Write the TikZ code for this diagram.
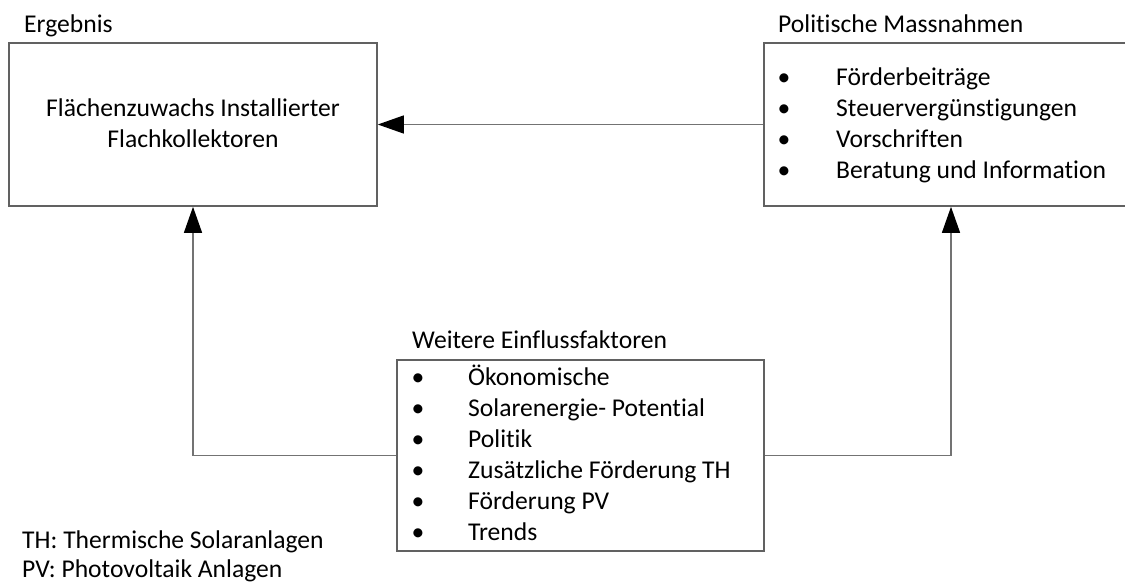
\documentclass[tikz,border=0pt]{standalone}
\usepackage{fontspec}
\setmainfont{Carlito}[Ligatures={NoCommon}]
\usetikzlibrary{arrows.meta}
\tikzset{
  boxframe/.style={draw=black!62, line width=1.6pt, inner sep=0pt},
  txt/.style={anchor=base west, inner sep=0pt, font=\fontsize{25.6}{31}\selectfont},
  ctxt/.style={anchor=base, inner sep=0pt, font=\fontsize{25.6}{31}\selectfont},
  conn/.style={draw=black!55, line width=1.3pt, -{Triangle[length=26pt,width=18pt,color=black]}},
}
\begin{document}
\begin{tikzpicture}[x=1pt,y=-1pt]
\useasboundingbox (0,0) rectangle (1125,584);
\clip (0,0) rectangle (1125,584);
% boxes
\node[boxframe, minimum width=368pt, minimum height=163pt] (res) at (193,124.5) {};
\node[boxframe, minimum width=363pt, minimum height=163pt] (pol) at (945.5,124.5) {};
\node[boxframe, minimum width=367pt, minimum height=191pt] (inf) at (580.5,455.5) {};
% titles
\node[txt] (t1) at (24,32) {Ergebnis};
\node[txt] (t2) at (778,32) {Politische Massnahmen};
\node[txt] (t3) at (412,348) {Weitere Einflussfaktoren};
% result text
\node[ctxt] (r1) at (193,116) {Flächenzuwachs Installierter};
\node[ctxt] (r2) at (193,147) {Flachkollektoren};
% policy list
\foreach \i/\t in {0/Förderbeiträge,1/Steuervergünstigungen,2/Vorschriften,3/Beratung und Information}{
  \node[ctxt] (pb\i) at (784,85+31*\i) {\textbullet};
  \node[txt] (pt\i) at (836,85+31*\i) {\t};
}
% factors list
\foreach \i/\t in {0/Ökonomische,1/Solarenergie- Potential,2/Politik,3/Zusätzliche Förderung TH,4/Förderung PV,5/Trends}{
  \node[ctxt] (fb\i) at (418,385+31*\i) {\textbullet};
  \node[txt] (ft\i) at (468,385+31*\i) {\t};
}
% legend
\node[txt] (l1) at (22,548) {TH: Thermische Solaranlagen};
\node[txt] (l2) at (22,577) {PV: Photovoltaik Anlagen};
% connectors
\coordinate (pr) at ([xshift=5.5pt]pol.south);
\draw[conn] (pol.west) -- (res.east);
\draw[conn] (inf.west) -| (res.south);
\draw[conn] (inf.east) -| (pr);
\end{tikzpicture}
\end{document}
